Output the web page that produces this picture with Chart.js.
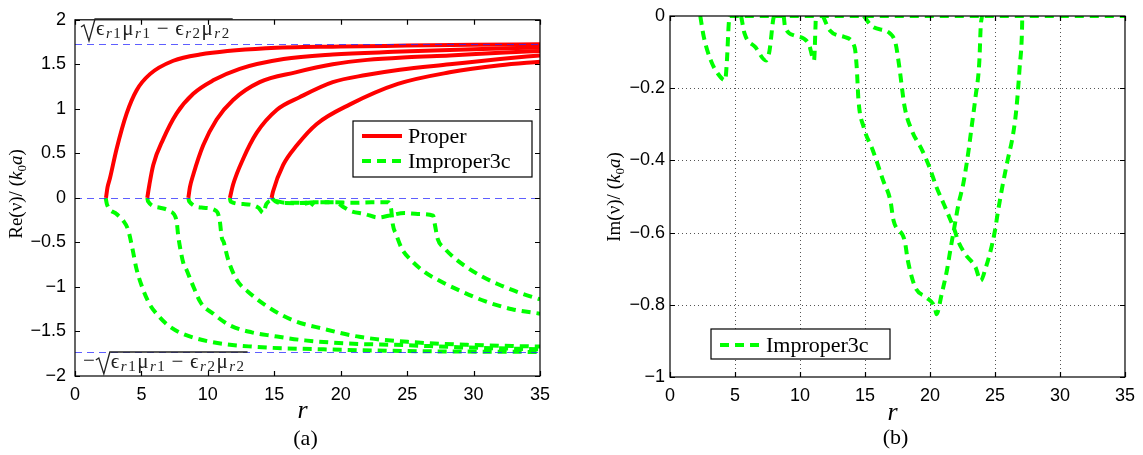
<!DOCTYPE html>
<html>
<head>
<meta charset="utf-8">
<script src="https://cdn.jsdelivr.net/npm/chart.js@4.4.1/dist/chart.umd.min.js"></script>
<style>
  html, body { margin: 0; padding: 0; background: #fff; }
  #wrapA { position: absolute; left: 0; top: 0; width: 560px; height: 455px; }
  #wrapB { position: absolute; left: 560px; top: 0; width: 583px; height: 455px; }
</style>
</head>
<body>
<div id="wrapA"><canvas id="chartA" width="560" height="455"></canvas></div>
<div id="wrapB"><canvas id="chartB" width="583" height="455"></canvas></div>
<script>
// ---- data: [r, value] ----
// (a) proper modes, real part
const proper1 = [[2.33,0],[2.45,0.12],[2.63,0.22],[3.13,0.55],[3.89,0.95],[4.64,1.21],[5.64,1.39],[7.4,1.54],[9.4,1.61],[14.4,1.68],[20,1.70],[25,1.71],[30,1.72],[35,1.725]];
const proper2 = [[5.44,0],[5.6,0.15],[5.89,0.37],[6.64,0.66],[7.65,0.95],[8.9,1.17],[10.4,1.32],[12.4,1.45],[15.7,1.56],[19.4,1.61],[24,1.64],[30,1.67],[35,1.69]];
const proper3 = [[8.53,0],[8.65,0.12],[8.9,0.26],[9.65,0.59],[10.66,0.88],[11.9,1.10],[13.9,1.30],[16.6,1.41],[19.4,1.50],[22,1.55],[25,1.58],[28.2,1.60],[32,1.63],[35,1.65]];
const proper4 = [[11.66,0],[11.9,0.15],[12.66,0.44],[13.67,0.73],[15.2,0.99],[16.9,1.13],[19.4,1.30],[21.9,1.38],[24.45,1.44],[28.2,1.50],[32,1.56],[35,1.60]];
const proper5 = [[14.8,0],[14.9,0.07],[15.67,0.37],[16.7,0.59],[18.2,0.83],[20.7,1.05],[24.3,1.28],[28.2,1.41],[32,1.49],[35,1.53]];

// (a) improper modes, real part
const improperRe1 = [[2.31,0],[2.4,-0.07],[3.13,-0.18],[3.6,-0.25],[4.0,-0.36],[4.35,-0.59],[4.6,-0.78],[5.1,-1.02],[5.64,-1.2],[6.25,-1.32],[7.0,-1.43],[7.86,-1.51],[10,-1.61],[13.3,-1.67],[18.7,-1.70],[25,-1.72],[35,-1.73]];
const improperRe2 = [[5.44,0],[5.5,-0.04],[6.4,-0.11],[7.15,-0.15],[7.65,-0.26],[7.75,-0.40],[7.9,-0.55],[8.15,-0.73],[8.4,-0.81],[8.78,-0.95],[9.48,-1.18],[10.4,-1.30],[11.64,-1.43],[13.3,-1.51],[14.9,-1.55],[17.3,-1.60],[21.4,-1.64],[24.1,-1.65],[29.5,-1.68],[35,-1.70]];
const improperRe3 = [[8.53,0],[8.6,-0.04],[9.65,-0.11],[10.66,-0.15],[10.9,-0.26],[11.04,-0.44],[11.2,-0.5],[11.5,-0.68],[12.17,-0.92],[13.0,-1.05],[14.8,-1.25],[16.5,-1.38],[18.7,-1.47],[21.4,-1.56],[25.4,-1.62],[29.5,-1.65],[35,-1.67]];
const improperRe4 = [[11.66,0],[11.7,-0.04],[12.8,-0.07],[13.8,-0.11],[14.17,-0.17],[14.4,-0.07],[14.9,-0.03],[15.8,-0.055],[17.4,-0.055],[18.06,-0.05],[19.56,-0.05],[20.8,-0.055],[22.3,-0.05],[23.6,-0.05],[23.8,-0.13],[23.9,-0.28],[24.2,-0.42],[24.6,-0.57],[25.3,-0.70],[26.3,-0.83],[27.3,-0.92],[28.8,-1.03],[30.85,-1.16],[32.9,-1.25],[35,-1.30]];
const improperRe5 = [[14.8,0],[15.2,-0.05],[16.55,-0.06],[17.4,-0.055],[17.55,-0.11],[18.06,-0.05],[19.56,-0.05],[20.3,-0.11],[20.8,-0.15],[21.8,-0.18],[22.8,-0.22],[23.6,-0.2],[24.8,-0.17],[25.8,-0.18],[26.96,-0.20],[27.1,-0.31],[27.3,-0.46],[27.84,-0.57],[28.6,-0.68],[29.6,-0.79],[30.6,-0.88],[31.85,-0.97],[33.36,-1.06],[35,-1.14]];

// (b) improper modes, imaginary part
const improperImZero = [[4.6,0],[35,0]];
const improperIm1 = [[2.33,0],[2.6,-0.058],[3.14,-0.123],[3.69,-0.16],[4.24,-0.178],[4.38,-0.123],[4.52,-0.021],[4.6,0]];
const improperIm2 = [[5.47,0],[5.74,-0.049],[6.56,-0.086],[7.39,-0.123],[7.66,-0.095],[7.93,-0.012],[8.0,0]];
const improperIm3 = [[8.75,0],[8.85,-0.03],[9.57,-0.054],[10.67,-0.077],[11.08,-0.123],[11.2,-0.021],[11.22,0]];
const improperIm4 = [[11.76,0],[12.3,-0.04],[13.4,-0.058],[14.2,-0.086],[14.36,-0.14],[14.5,-0.234],[14.9,-0.308],[15.6,-0.372],[16.4,-0.456],[16.95,-0.511],[17.2,-0.567],[18.05,-0.622],[18.3,-0.678],[18.87,-0.752],[19.7,-0.779],[20.37,-0.807],[20.5,-0.826],[20.9,-0.77],[21.3,-0.705],[21.6,-0.641],[21.9,-0.58],[22.2,-0.52],[22.56,-0.465],[22.97,-0.372],[23.2,-0.308],[23.5,-0.225],[23.8,-0.123],[23.9,-0.03],[24.0,0]];
const improperIm5 = [[14.9,0],[15.6,-0.03],[16.95,-0.049],[17.36,-0.077],[17.64,-0.141],[18.05,-0.252],[18.6,-0.317],[19.4,-0.372],[19.96,-0.419],[20.5,-0.474],[21.05,-0.52],[21.6,-0.567],[21.9,-0.594],[22.15,-0.622],[22.7,-0.659],[23.5,-0.696],[23.9,-0.733],[24.3,-0.696],[24.6,-0.659],[25.0,-0.594],[25.2,-0.548],[25.56,-0.474],[25.97,-0.40],[26.4,-0.326],[26.66,-0.252],[26.9,-0.141],[27.07,-0.049],[27.1,0]];

// reference levels (a): +/- sqrt(er1*mr1 - er2*mr2), and zero
const refLevels = [1.732, 0, -1.732];

const RED = '#ff0000';
const GREEN = '#00ff00';
const SANS = "'Liberation Sans', Arial, sans-serif";
const SERIF = "'Liberation Serif', 'DejaVu Serif', serif";

Chart.defaults.font.family = SANS;
Chart.defaults.color = '#000';

function toPts(arr) {
  return arr.map(p => ({ x: p[0], y: p[1] }));
}

function properSet(arr, label) {
  return {
    label: label, data: toPts(arr), borderColor: RED, backgroundColor: RED,
    borderWidth: 4, pointRadius: 0, showLine: true, cubicInterpolationMode: 'monotone'
  };
}

function improperSet(arr, label) {
  return {
    label: label, data: toPts(arr), borderColor: GREEN, backgroundColor: GREEN,
    borderWidth: 4, borderDash: [9, 6], pointRadius: 0, showLine: true, cubicInterpolationMode: 'monotone'
  };
}

function minusFmt(v) {
  const s = String(Math.round(v * 10) / 10);
  return s.replace('-', '\u2212');
}

// rich text helpers (parts = [text, font, dy]); small extra gap after each part
const GAP = 1.5;
function richWidth(ctx, parts, gap = 0) {
  let w = 0;
  for (const p of parts) { ctx.font = p[1]; w += ctx.measureText(p[0]).width + gap; }
  return w;
}
function drawRich(ctx, parts, x, y, gap = 0) {
  let cx = x;
  for (const p of parts) {
    ctx.font = p[1];
    ctx.fillText(p[0], cx, y + (p[2] || 0));
    cx += ctx.measureText(p[0]).width + gap;
  }
  return cx;
}

const big = '21px ' + SERIF;
const sub = '15px ' + SERIF;
const subI = 'italic 15px ' + SERIF;
const sqrtBody = [
  ['\u03f5', big], ['r', subI, 3], ['1', sub, 3], ['\u03bc', big], ['r', subI, 3], ['1', sub, 3],
  [' \u2212 ', big],
  ['\u03f5', big], ['r', subI, 3], ['2', sub, 3], ['\u03bc', big], ['r', subI, 3], ['2', sub, 3]
];

function yLabelParts(head) {
  const f = '19px ' + SERIF, fi = 'italic 19px ' + SERIF;
  return [[head + '(\u03bd)/ (', f], ['k', fi], ['0', '13px ' + SERIF, 4], ['a', fi], [')', f]];
}

// MATLAB style axes: box, inward ticks, optional dotted grid, ref lines, texts, legend
const matlabAxes = {
  id: 'matlabAxes',
  beforeDatasetsDraw(chart, args, opts) {
    const { ctx, chartArea: a, scales: { x, y } } = chart;
    if (!opts.grid) return;
    ctx.save();
    ctx.strokeStyle = '#555';
    ctx.lineWidth = 1;
    ctx.setLineDash([1, 3]);
    x.ticks.forEach(t => {
      const px = Math.round(x.getPixelForValue(t.value)) + 0.5;
      if (px <= a.left + 1 || px >= a.right - 1) return;
      ctx.beginPath(); ctx.moveTo(px, a.top); ctx.lineTo(px, a.bottom); ctx.stroke();
    });
    y.ticks.forEach(t => {
      const py = Math.round(y.getPixelForValue(t.value)) + 0.5;
      if (py <= a.top + 1 || py >= a.bottom - 1) return;
      ctx.beginPath(); ctx.moveTo(a.left, py); ctx.lineTo(a.right, py); ctx.stroke();
    });
    ctx.restore();
  },
  afterDatasetsDraw(chart, args, opts) {
    const { ctx, chartArea: a, scales: { x, y } } = chart;
    ctx.save();
    if (opts.refLines) {
      ctx.strokeStyle = 'rgba(40,40,255,0.75)';
      ctx.lineWidth = 1;
      ctx.setLineDash([7, 5]);
      opts.refLines.forEach(v => {
        const py = Math.round(y.getPixelForValue(v)) + 0.5;
        ctx.beginPath(); ctx.moveTo(a.left, py); ctx.lineTo(a.right, py); ctx.stroke();
      });
    }
    ctx.setLineDash([]);
    ctx.strokeStyle = '#000';
    ctx.lineWidth = 1.2;
    ctx.strokeRect(a.left, a.top, a.right - a.left, a.bottom - a.top);
    const tl = 5;
    ctx.beginPath();
    x.ticks.forEach(t => {
      const px = Math.round(x.getPixelForValue(t.value)) + 0.5;
      ctx.moveTo(px, a.bottom); ctx.lineTo(px, a.bottom - tl);
      ctx.moveTo(px, a.top); ctx.lineTo(px, a.top + tl);
    });
    y.ticks.forEach(t => {
      const py = Math.round(y.getPixelForValue(t.value)) + 0.5;
      ctx.moveTo(a.left, py); ctx.lineTo(a.left + tl, py);
      ctx.moveTo(a.right, py); ctx.lineTo(a.right - tl, py);
    });
    ctx.stroke();
    ctx.restore();
  },
  afterDraw(chart, args, opts) {
    const { ctx, chartArea: a } = chart;
    ctx.save();
    ctx.fillStyle = '#000';
    ctx.textBaseline = 'alphabetic';

    // sqrt annotations
    (opts.roots || []).forEach(r => {
      ctx.fillStyle = '#222';
      ctx.strokeStyle = '#222';
      let sx = r.x;
      if (r.neg) {
        ctx.font = big;
        ctx.fillText('\u2212', sx, r.base - 1);
        sx += ctx.measureText('\u2212').width + 1;
      }
      const top = r.base - 16;
      ctx.lineWidth = 1.3;
      ctx.beginPath();
      ctx.moveTo(sx, r.base - 8);
      ctx.lineTo(sx + 3, r.base - 10);
      ctx.lineTo(sx + 8, r.base + 6);
      ctx.lineTo(sx + 14, top);
      const w = richWidth(ctx, sqrtBody, GAP);
      ctx.lineTo(sx + 17 + w, top);
      ctx.stroke();
      drawRich(ctx, sqrtBody, sx + 15, r.base, GAP);
    });

    // axis labels
    ctx.fillStyle = '#000';
    const yl = yLabelParts(opts.yHead);
    const yw = richWidth(ctx, yl);
    ctx.save();
    ctx.translate(opts.yLabelX, opts.yLabelY);
    ctx.rotate(-Math.PI / 2);
    drawRich(ctx, yl, -yw / 2, 6);
    ctx.restore();

    const cx = (a.left + a.right) / 2;
    ctx.textAlign = 'center';
    ctx.font = 'italic 26px ' + SERIF;
    ctx.fillText('r', cx - 5, opts.rBase);
    ctx.font = '22px ' + SERIF;
    ctx.fillText(opts.panel, cx - 2, opts.panelBase);
    ctx.textAlign = 'left';

    // legend
    const lg = opts.legend;
    if (lg) {
      ctx.fillStyle = '#fff';
      ctx.fillRect(lg.x, lg.y, lg.w, lg.h);
      ctx.strokeStyle = '#000';
      ctx.lineWidth = 1.2;
      ctx.strokeRect(lg.x, lg.y, lg.w, lg.h);
      const items = chart.data.datasets.filter(d => d.label);
      items.forEach((d, i) => {
        const ly = lg.y + lg.first + i * lg.step;
        ctx.strokeStyle = d.borderColor;
        ctx.lineWidth = d.borderWidth;
        ctx.setLineDash(d.borderDash || []);
        ctx.beginPath();
        ctx.moveTo(lg.x + 9, ly); ctx.lineTo(lg.x + 49, ly);
        ctx.stroke();
        ctx.setLineDash([]);
        ctx.fillStyle = '#000';
        ctx.font = '22px ' + SERIF;
        ctx.fillText(d.label, lg.x + 55, ly + 7);
      });
    }
    ctx.restore();
  }
};

function baseOptions(yMin, yMax, yStep, yWidth, xHeight, pad, plug) {
  return {
    responsive: false,
    animation: false,
    devicePixelRatio: 1,
    layout: { padding: pad },
    plugins: { legend: { display: false }, tooltip: { enabled: false }, matlabAxes: plug },
    scales: {
      x: {
        type: 'linear', min: 0, max: 35,
        grid: { display: false, drawTicks: false },
        border: { display: false },
        ticks: { stepSize: 5, padding: 8, font: { size: 18 }, color: '#000', maxRotation: 0 },
        afterFit: s => { s.height = xHeight; }
      },
      y: {
        type: 'linear', min: yMin, max: yMax,
        grid: { display: false, drawTicks: false },
        border: { display: false },
        ticks: { stepSize: yStep, padding: plug.yPad, font: { size: 18 }, color: '#000', callback: v => minusFmt(v) },
        afterFit: s => { s.width = yWidth; }
      }
    }
  };
}

new Chart(document.getElementById('chartA'), {
  type: 'scatter',
  data: {
    datasets: [
      properSet(proper1, 'Proper'), improperSet(improperRe1, 'Improper3c'),
      properSet(proper2), properSet(proper3), properSet(proper4), properSet(proper5),
      improperSet(improperRe2), improperSet(improperRe3), improperSet(improperRe4), improperSet(improperRe5)
    ]
  },
  options: baseOptions(-2, 2, 0.5, 75, 79, { left: 0, right: 20, top: 12, bottom: 0 }, {
    refLines: refLevels,
    yPad: 9,
    yHead: 'Re',
    yLabelX: 16, yLabelY: 194,
    rBase: 418, panel: '(a)', panelBase: 445,
    roots: [{ x: 81, base: 35, neg: false }, { x: 83, base: 368, neg: true }],
    legend: { x: 353, y: 121, w: 179, h: 56, first: 15, step: 25 }
  }),
  plugins: [matlabAxes]
});

new Chart(document.getElementById('chartB'), {
  type: 'scatter',
  data: {
    datasets: [
      improperSet(improperImZero, 'Improper3c'),
      improperSet(improperIm1), improperSet(improperIm2), improperSet(improperIm3),
      improperSet(improperIm4), improperSet(improperIm5)
    ]
  },
  options: baseOptions(-1, 0, 0.2, 110, 78, { left: 0, right: 11, top: 16, bottom: 0 }, {
    grid: true,
    yPad: 5,
    yHead: 'Im',
    yLabelX: 54, yLabelY: 197,
    rBase: 420, panel: '(b)', panelBase: 444,
    legend: { x: 151, y: 329, w: 179, h: 30, first: 16, step: 25 }
  }),
  plugins: [matlabAxes]
});
</script>
</body>
</html>
